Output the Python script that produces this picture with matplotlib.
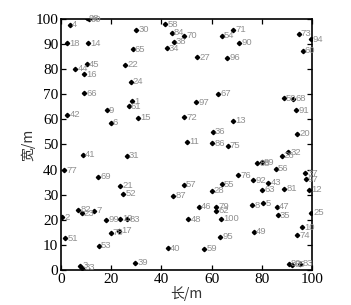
import matplotlib
matplotlib.use("Agg")
import matplotlib.pyplot as plt

# node positions (m) and their ids
xs = [3.6, 10.2, 11.0, 2.5, 10.8, 29.9, 41.6, 44.2, 49.0, 45.0, 42.1, 28.6, 54.3, 66.3,
      64.1, 68.7, 71.0, 94.7, 99.5, 96.3, 10.2, 5.7, 9.2, 25.6, 27.8, 9.2, 62.5, 88.8,
      92.6, 93.6, 28.3, 27.0, 18.2, 2.5, 19.8, 30.7, 53.8, 49.0, 68.7, 60.4, 94.1, 50.3,
      60.3, 66.4, 8.6, 26.2, 1.2, 14.9, 23.5, 24.8, 44.7, 49.0, 6.9, 8.2, 13.3, 0.4,
      17.9, 23.5, 26.4, 19.8, 23.2, 1.7, 15.1, 42.5, 29.5, 7.6, 8.4, 50.7, 90.6, 87.9,
      78.1, 80.0, 85.5, 70.6, 76.5, 82.6, 64.0, 60.0, 80.2, 89.0, 98.8, 97.2, 97.5, 55.0,
      61.9, 61.9, 63.7, 76.2, 80.5, 86.1, 86.3, 99.6, 76.8, 63.5, 95.9, 94.0, 57.1, 90.8,
      92.2, 95.3]
ys = [97.6, 100.3, 99.8, 90.3, 90.3, 95.7, 97.9, 94.4, 93.2, 91.0, 88.3, 87.9, 84.7, 84.6,
      93.2, 95.7, 90.6, 94.0, 91.9, 87.4, 81.9, 80.1, 78.0, 81.7, 75.0, 70.4, 70.1, 68.4,
      68.1, 63.7, 67.1, 65.3, 63.7, 61.8, 58.7, 60.6, 66.7, 60.8, 59.4, 55.0, 54.2, 51.1,
      50.5, 49.4, 45.8, 45.4, 39.8, 37.2, 33.5, 30.3, 29.5, 33.9, 23.9, 22.6, 23.6, 21.0,
      19.9, 20.4, 20.2, 14.9, 15.7, 12.6, 9.6, 8.6, 2.9, 1.6, 0.8, 20.2, 46.9, 45.4,
      42.5, 42.8, 40.4, 37.8, 35.7, 34.8, 34.1, 31.6, 31.9, 32.3, 31.9, 38.5, 36.1, 25.2,
      25.2, 23.5, 20.3, 25.8, 26.6, 25.2, 21.8, 22.8, 15.3, 13.3, 17.0, 13.9, 8.5, 2.4,
      2.0, 2.4]
ids = ["4", "98", "99", "18", "14", "30", "58", "84", "70", "38", "34", "65", "27", "96",
       "54", "71", "90", "73", "94", "60", "45", "44", "16", "22", "24", "66", "67", "50",
       "68", "91", "1", "61", "9", "42", "6", "15", "97", "72", "13", "36", "20", "11",
       "86", "75", "41", "31", "77", "69", "21", "52", "87", "57", "82", "23", "7", "2",
       "99", "19", "83", "78", "17", "51", "53", "40", "39", "3", "33", "48", "32", "26",
       "88", "89", "56", "76", "92", "43", "55", "28", "63", "81", "12", "37", "97", "46",
       "79", "62", "100", "8", "5", "47", "35", "25", "49", "95", "10", "74", "59", "80",
       "85", "83"]

xticks = [0, 20, 40, 60, 80, 100]
yticks = [0, 10, 20, 30, 40, 50, 60, 70, 80, 90, 100]

fig = plt.figure(figsize=(3.51, 3.05), dpi=100)
ax = fig.add_axes([0.174, 0.115, 0.715, 0.823])

ax.plot(xs, ys, linestyle="none", marker="D", markersize=2.2, color="black")
for x, y, t in zip(xs, ys, ids):
    ax.annotate(t, (x, y), xytext=(1.5, 0), textcoords="offset points",
                va="center", ha="left", fontsize=6.8, color="#909090",
                family="Liberation Sans", annotation_clip=False)

ax.set_xlim(0, 100)
ax.set_ylim(0, 100)
ax.set_xticks(xticks)
ax.set_yticks(yticks)
ax.tick_params(direction="in", length=3.5, width=0.9, top=True, right=True,
               labelsize=11, pad=2)
for lab in ax.get_xticklabels() + ax.get_yticklabels():
    lab.set_family("Liberation Serif")
for s in ax.spines.values():
    s.set_linewidth(1.2)

ax.set_xlabel("长/m", family=["Noto Sans CJK SC", "DejaVu Sans"], fontsize=10,
              color="#333333", labelpad=0)
ax.set_ylabel("宽/m", family=["Noto Sans CJK SC", "DejaVu Sans"], fontsize=10,
              color="#333333", labelpad=0)

fig.savefig("out.png", dpi=100)
